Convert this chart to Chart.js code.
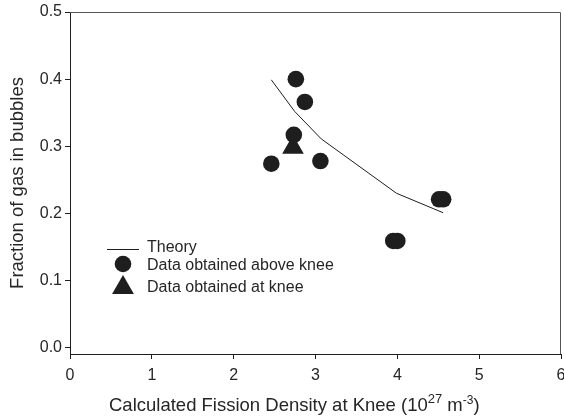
<!DOCTYPE html>
<html>
<head>
<meta charset="utf-8">
<script src="https://cdn.jsdelivr.net/npm/chart.js@4.4.0/dist/chart.umd.min.js"></script>
<style>
  html, body { margin: 0; padding: 0; background: #fff; }
</style>
</head>
<body>
<canvas id="myChart" width="564" height="417"></canvas>
<script>
// axis ticks
var xTicks = [0, 1, 2, 3, 4, 5, 6];
var yTicks = [0.0, 0.1, 0.2, 0.3, 0.4, 0.5];

// theory curve
var theoryX = [2.46, 2.745, 3.07, 3.99, 4.56];
var theoryY = [0.399, 0.352, 0.311, 0.230, 0.201];

// measured above the knee
var aboveX = [2.76, 2.87, 2.735, 2.46, 3.06, 3.95, 4.00, 4.51, 4.56];
var aboveY = [0.400, 0.366, 0.317, 0.274, 0.278, 0.159, 0.159, 0.221, 0.221];

// measured at the knee
var kneeX = [2.725];
var kneeY = [0.298];

var labels = ['Theory', 'Data obtained above knee', 'Data obtained at knee'];

var ink = '#1e1e1e';
var textColor = '#262626';
var fontFamily = '"Liberation Sans", Arial, sans-serif';

function toPoints(xs, ys) {
    return xs.map(function (x, i) { return { x: x, y: ys[i] }; });
}

// frame on top and right, axis titles and the legend box
var extras = {
    id: 'extras',
    afterDraw: function (chart) {
        var ctx = chart.ctx;
        var a = chart.chartArea;
        ctx.save();

        ctx.strokeStyle = '#555';
        ctx.lineWidth = 1;
        ctx.beginPath();
        ctx.moveTo(a.left, a.top + 0.5);
        ctx.lineTo(a.right - 0.5, a.top + 0.5);
        ctx.lineTo(a.right - 0.5, a.bottom);
        ctx.stroke();

        ctx.fillStyle = textColor;
        ctx.textBaseline = 'alphabetic';

        // x title with superscripts
        var x = 109, y = 411;
        var parts = [
            ['Calculated Fission Density at Knee (10', 18.5, 0],
            ['27', 13, -8],
            [' m', 18.5, 0],
            ['-3', 12, -7],
            [')', 18.5, 0]
        ];
        parts.forEach(function (p) {
            ctx.font = p[1] + 'px ' + fontFamily;
            ctx.textAlign = 'left';
            ctx.fillText(p[0], x, y + p[2]);
            x += ctx.measureText(p[0]).width;
        });

        // y title
        ctx.save();
        ctx.translate(23, (a.top + a.bottom) / 2);
        ctx.rotate(-Math.PI / 2);
        ctx.font = '18.5px ' + fontFamily;
        ctx.textAlign = 'center';
        ctx.fillText('Fraction of gas in bubbles', 0, 0);
        ctx.restore();

        // legend
        ctx.font = '16px ' + fontFamily;
        ctx.textAlign = 'left';
        ctx.textBaseline = 'middle';
        var lx = 123, tx = 147;
        var rows = [248, 266, 288];

        ctx.strokeStyle = ink;
        ctx.lineWidth = 1;
        ctx.beginPath();
        ctx.moveTo(107, 249.5);
        ctx.lineTo(139, 249.5);
        ctx.stroke();

        ctx.fillStyle = ink;
        ctx.beginPath();
        ctx.arc(lx, 264, 8.3, 0, Math.PI * 2);
        ctx.fill();

        var r = 12.6;
        var cy = 287.7;
        ctx.beginPath();
        ctx.moveTo(lx, cy - r);
        ctx.lineTo(lx + r * Math.sin(Math.PI / 3), cy + r / 2);
        ctx.lineTo(lx - r * Math.sin(Math.PI / 3), cy + r / 2);
        ctx.closePath();
        ctx.fill();

        ctx.fillStyle = textColor;
        labels.forEach(function (t, i) {
            ctx.fillText(t, tx, rows[i]);
        });

        ctx.restore();
    }
};

var ctx = document.getElementById('myChart').getContext('2d');
var chart = new Chart(ctx, {
    type: 'scatter',
    data: {
        datasets: [{
            label: labels[0],
            type: 'line',
            data: toPoints(theoryX, theoryY),
            borderColor: ink,
            borderWidth: 1,
            pointRadius: 0,
            fill: false,
            tension: 0
        }, {
            label: labels[1],
            data: toPoints(aboveX, aboveY),
            pointStyle: 'circle',
            pointRadius: 8.3,
            backgroundColor: ink,
            borderColor: ink,
            borderWidth: 0
        }, {
            label: labels[2],
            data: toPoints(kneeX, kneeY),
            pointStyle: 'triangle',
            pointRadius: 12.5,
            backgroundColor: ink,
            borderColor: ink,
            borderWidth: 0
        }]
    },
    options: {
        responsive: false,
        animation: false,
        layout: { autoPadding: false, padding: { top: 12, right: 3, left: 0, bottom: 0 } },
        plugins: {
            legend: { display: false },
            tooltip: { enabled: false }
        },
        scales: {
            x: {
                type: 'linear',
                min: 0,
                max: 6,
                afterBuildTicks: function (s) {
                    s.ticks = xTicks.map(function (v) { return { value: v }; });
                },
                afterFit: function (s) {
                    s.height = 63;
                    s.paddingLeft = 0;
                    s.paddingRight = 0;
                },
                ticks: {
                    color: textColor,
                    font: { family: fontFamily, size: 16 },
                    padding: 7,
                    maxRotation: 0
                },
                grid: { drawOnChartArea: false, tickLength: 5, color: ink },
                border: { color: ink, width: 1 }
            },
            y: {
                type: 'linear',
                min: -0.0094,
                max: 0.5,
                afterBuildTicks: function (s) {
                    s.ticks = yTicks.map(function (v) { return { value: v }; });
                },
                afterFit: function (s) {
                    s.width = 70;
                    s.paddingTop = 0;
                    s.paddingBottom = 0;
                },
                ticks: {
                    color: textColor,
                    font: { family: fontFamily, size: 16 },
                    padding: 3,
                    callback: function (v) { return v.toFixed(1); }
                },
                grid: { drawOnChartArea: false, tickLength: 5, color: ink },
                border: { color: ink, width: 1 }
            }
        }
    },
    plugins: [extras]
});
</script>
</body>
</html>
